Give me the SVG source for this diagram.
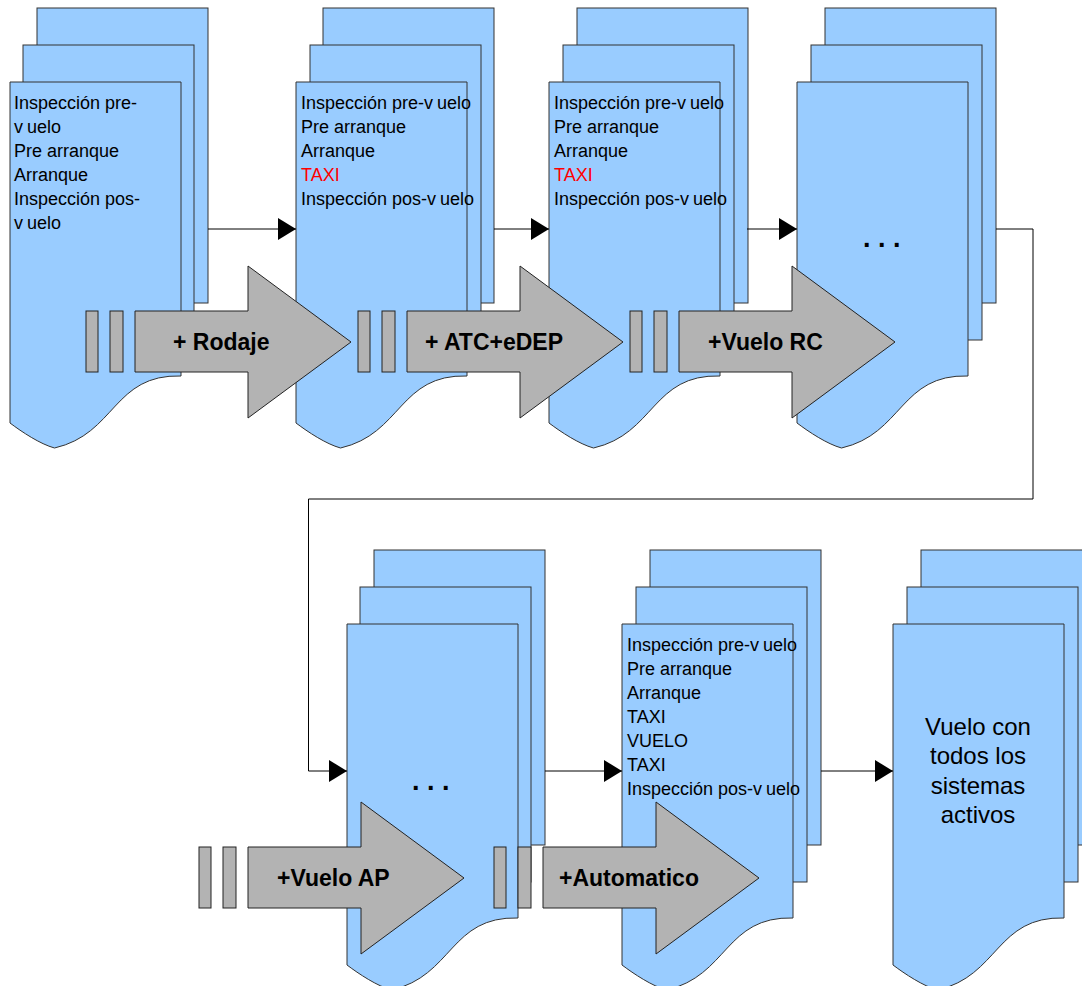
<svg xmlns="http://www.w3.org/2000/svg" xmlns:xlink="http://www.w3.org/1999/xlink" width="1082" height="986" viewBox="0 0 1082 986">
<style>
.pg{fill:#99ccff;stroke:#333333;stroke-width:1}
.ga{fill:#b3b3b3;stroke:#222222;stroke-width:1}
.t{font-family:"Liberation Sans",Arial,sans-serif;font-size:18px;fill:#000}
.red{fill:#ff0000}
.big{font-family:"Liberation Sans",Arial,sans-serif;font-size:24px;fill:#000;text-anchor:middle}
.lbl{font-family:"Liberation Sans",Arial,sans-serif;font-size:23px;font-weight:bold;fill:#000}
.dots{font-family:"Liberation Sans",Arial,sans-serif;font-size:27px;font-weight:bold;fill:#000}
.cn{fill:none;stroke:#000;stroke-width:1}
</style>
<defs>
<rect id="page" width="171" height="295"/>
<path id="doc" d="M0,0 H171 V294 C103,292 106,352 44.5,366 C30,362 12,350 0,341 Z"/>
<g id="arr">
<rect x="86" y="311" width="12" height="61"/>
<rect x="110" y="311" width="13" height="61"/>
<polygon points="135,311 248,311 248,266 351,342 248,418 248,372 135,372"/>
</g>
<marker id="ah" markerUnits="userSpaceOnUse" markerWidth="18" markerHeight="22" refX="18" refY="11" orient="auto">
<path d="M0,0 L18,11 L0,22 Z" fill="#000"/>
</marker>
</defs>

<g id="stack1">
<use href="#page" class="pg" x="37" y="8"/>
<use href="#page" class="pg" x="23" y="45"/>
<use href="#doc" class="pg" transform="translate(10,82)"/>
<text class="t" x="14" y="109">Inspección pre-</text>
<text class="t" x="14" y="133">v<tspan dx="4">uelo</tspan></text>
<text class="t" x="14" y="157">Pre arranque</text>
<text class="t" x="14" y="181">Arranque</text>
<text class="t" x="14" y="205">Inspección pos-</text>
<text class="t" x="14" y="229">v<tspan dx="4">uelo</tspan></text>
</g>

<g id="stack2">
<use href="#page" class="pg" x="323" y="8"/>
<use href="#page" class="pg" x="310" y="45"/>
<use href="#doc" class="pg" transform="translate(296,82)"/>
<text class="t" x="301" y="109">Inspección pre-v<tspan dx="4">uelo</tspan></text>
<text class="t" x="301" y="133">Pre arranque</text>
<text class="t" x="301" y="157">Arranque</text>
<text class="t red" x="301" y="181">TAXI</text>
<text class="t" x="301" y="205">Inspección pos-v<tspan dx="4">uelo</tspan></text>
</g>

<g id="stack3">
<use href="#page" class="pg" x="577" y="8"/>
<use href="#page" class="pg" x="563" y="45"/>
<use href="#doc" class="pg" transform="translate(549,82)"/>
<text class="t" x="554" y="109">Inspección pre-v<tspan dx="4">uelo</tspan></text>
<text class="t" x="554" y="133">Pre arranque</text>
<text class="t" x="554" y="157">Arranque</text>
<text class="t red" x="554" y="181">TAXI</text>
<text class="t" x="554" y="205">Inspección pos-v<tspan dx="4">uelo</tspan></text>
</g>

<g id="stack4">
<use href="#page" class="pg" x="825" y="8"/>
<use href="#page" class="pg" x="811" y="45"/>
<use href="#doc" class="pg" transform="translate(797,82)"/>
<text class="dots" x="863" y="247">. . .</text>
</g>

<g id="stack5">
<use href="#page" class="pg" x="374" y="550"/>
<use href="#page" class="pg" x="360" y="587"/>
<use href="#doc" class="pg" transform="translate(347,624)"/>
<text class="dots" x="412" y="790">. . .</text>
</g>

<g id="stack6">
<use href="#page" class="pg" x="650" y="550"/>
<use href="#page" class="pg" x="636" y="587"/>
<use href="#doc" class="pg" transform="translate(622,624)"/>
<text class="t" x="627" y="651">Inspección pre-v<tspan dx="4">uelo</tspan></text>
<text class="t" x="627" y="675">Pre arranque</text>
<text class="t" x="627" y="699">Arranque</text>
<text class="t" x="627" y="723">TAXI</text>
<text class="t" x="627" y="747">VUELO</text>
<text class="t" x="627" y="771">TAXI</text>
<text class="t" x="627" y="795">Inspección pos-v<tspan dx="4">uelo</tspan></text>
</g>

<g id="stack7">
<use href="#page" class="pg" x="921" y="550"/>
<use href="#page" class="pg" x="907" y="587"/>
<use href="#doc" class="pg" transform="translate(893,624)"/>
<text class="big" x="978" y="735">Vuelo con</text>
<text class="big" x="978" y="764">todos los</text>
<text class="big" x="978" y="794">sistemas</text>
<text class="big" x="978" y="823">activos</text>
</g>

<g id="connectors">
<path class="cn" d="M208,229 H296" marker-end="url(#ah)"/>
<path class="cn" d="M494,229 H549" marker-end="url(#ah)"/>
<path class="cn" d="M747,229 H797" marker-end="url(#ah)"/>
<path class="cn" d="M996,229 H1033 V499 H308.5 V771 H347" marker-end="url(#ah)"/>
<path class="cn" d="M545,771 H622" marker-end="url(#ah)"/>
<path class="cn" d="M821,771 H893" marker-end="url(#ah)"/>
</g>

<g id="arrow-rodaje">
<use href="#arr" class="ga"/>
<text class="lbl" x="173" y="350">+ Rodaje</text>
</g>
<g id="arrow-atc">
<use href="#arr" class="ga" x="272"/>
<text class="lbl" x="425" y="350">+ ATC+eDEP</text>
</g>
<g id="arrow-rc">
<use href="#arr" class="ga" x="544"/>
<text class="lbl" x="708" y="350">+Vuelo RC</text>
</g>
<g id="arrow-ap">
<use href="#arr" class="ga" x="113" y="536"/>
<text class="lbl" x="277" y="886">+Vuelo AP</text>
</g>
<g id="arrow-auto">
<use href="#arr" class="ga" x="408" y="536"/>
<text class="lbl" x="559" y="886">+Automatico</text>
</g>
</svg>
